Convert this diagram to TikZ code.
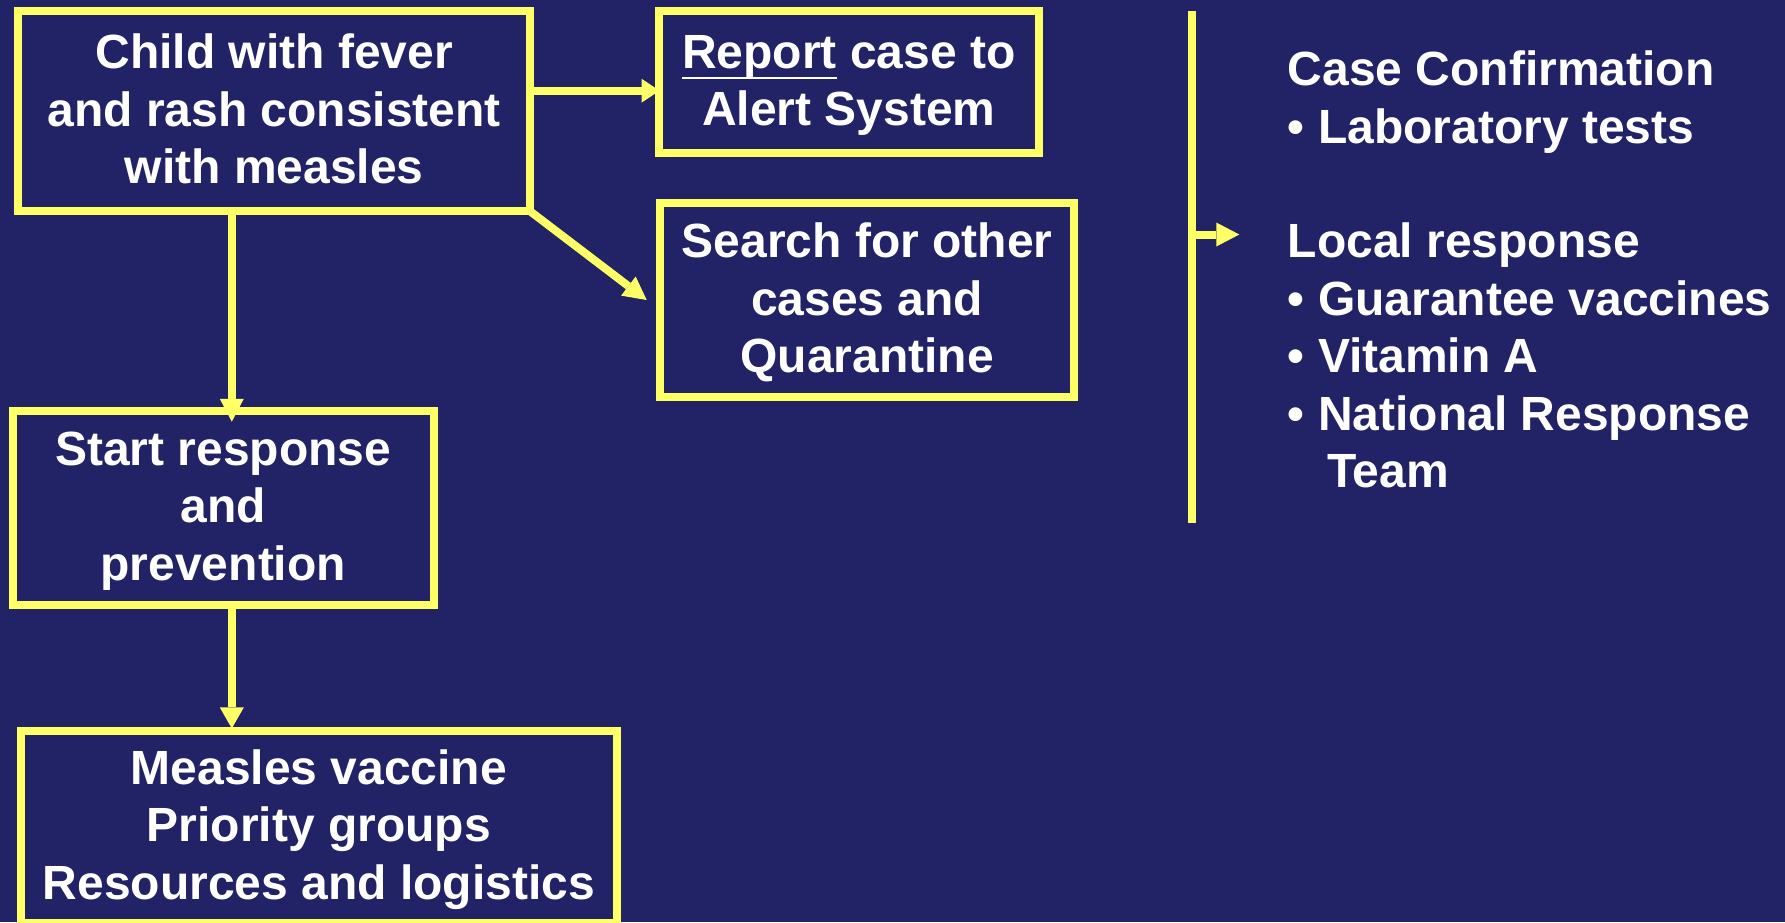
\documentclass[tikz,border=0pt]{standalone}
\usepackage{fontspec}
\setmainfont{Liberation Sans}
\usetikzlibrary{arrows.meta}
\definecolor{navy}{RGB}{34,34,102}
\definecolor{ylw}{RGB}{255,255,102}
\newcommand\st{\rule[-10pt]{0pt}{50pt}}
\newcommand\myul[1]{\setbox0\hbox{#1}\rlap{\rule[-10.6pt]{\wd0}{2.3pt}}\box0\relax}
\begin{document}
\begin{tikzpicture}[x=1pt,y=-1pt,
  txt/.style={text=white, font=\fontsize{48}{57.4}\selectfont\bfseries},
  box/.style={txt, draw=ylw, line width=8pt, inner sep=0pt, outer sep=0pt, align=center},
  arr/.style={draw=ylw, line width=8pt, -{Triangle[length=23pt,width=24pt,line width=0pt]}},
  ]
\fill[navy] (0,0) rectangle (1785,922);
\useasboundingbox (0,0) rectangle (1785,922);
\clip (0,0) rectangle (1785,922);

\node[box, minimum width=511.7pt, minimum height=200pt] (b1) at (274.2,111.2)
  {\st Child with fever\\\st and rash consistent\\\st with measles};
\node[box, minimum width=380.5pt, minimum height=141.8pt] (b2) at (848.8,82)
  {\st\myul{Report} case to\\\st Alert System};
\node[box, minimum width=413.8pt, minimum height=193.8pt] (b3) at (867.3,300)
  {\st Search for other\\\st cases and\\\st Quarantine};
\node[box, minimum width=420.9pt, minimum height=194.7pt] (b4) at (223.3,507.9)
  {\st Start response\\\st and\\\st prevention};
\node[box, minimum width=595.9pt, minimum height=192pt] (b5) at (318.8,826.9)
  {\st Measles vaccine\\\st Priority groups\\\st Resources and logistics};

\node[txt, anchor=north west, inner sep=0pt, align=left] (rt) at (1287.7,45.4)
  {\st Case Confirmation\\
   \st• Laboratory tests\\
   \st\\
   \st Local response\\
   \st• Guarantee vaccines\\
   \st• Vitamin A\\
   \st• National Response\\
   \st\hspace*{39.3pt}Team};

\coordinate (h1) at (0,90.7);
\coordinate (vx) at (231.8,0);
\draw[arr, -{Triangle[length=18pt,width=24pt,line width=0pt]}, shorten >=-1pt] (b1.east |- h1) -- (b2.west |- h1);
\draw[arr] (b1.south east) -- ([xshift=-13.7pt]b3.west);
\draw[arr, shorten >=-11.2pt] (b1.south -| vx) -- (b4.north -| vx);
\draw[arr, -{Triangle[length=21pt,width=24pt,line width=0pt]}, shorten >=2.5pt] (b4.south -| vx) -- (b5.north -| vx);

\coordinate (lt) at (1192.2,11.4);
\coordinate (lb) at (1192.2,522.7);
\coordinate (bs) at (1192.2,234.5);
\coordinate (be) at (1239.3,234.5);
\draw[ylw, line width=7.7pt] (lt) -- (lb);
\draw[arr] (bs) -- (be);
\end{tikzpicture}
\end{document}
